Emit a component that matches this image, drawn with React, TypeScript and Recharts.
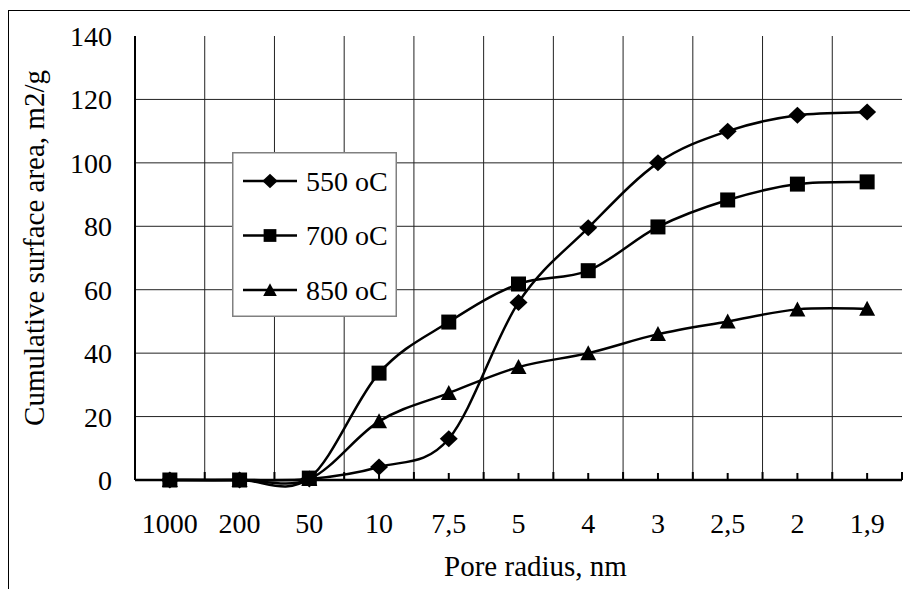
import React from "react";
import {
  LineChart,
  Line,
  XAxis,
  YAxis,
  CartesianGrid,
  Legend,
  Label,
} from "recharts";

const poreRadius = ["1000", "200", "50", "10", "7,5", "5", "4", "3", "2,5", "2", "1,9"];
const area550 = [0, 0, 0.3, 4.1, 13, 56, 79.5, 100, 110, 115, 116];
const area700 = [0, 0, 0.6, 33.7, 49.8, 61.8, 66, 79.8, 88.3, 93.3, 94];
const area850 = [0, 0, 0.3, 18.5, 27.4, 35.6, 40, 46, 50, 53.8, 54];
const yTicks = [0, 20, 40, 60, 80, 100, 120, 140];

const series = [
  { key: "s550", name: "550 oC", values: area550, marker: "diamond" },
  { key: "s700", name: "700 oC", values: area700, marker: "square" },
  { key: "s850", name: "850 oC", values: area850, marker: "triangle" },
];

const data = poreRadius.map((r, i) => ({
  r,
  s550: area550[i],
  s700: area700[i],
  s850: area850[i],
}));

const FONT = "'Liberation Serif', 'DejaVu Serif', 'Times New Roman', serif";

// Excel-style smoothed line (cardinal spline, tension 1/6)
const excelCurve = (context: any) => {
  let pts: number[][] = [];
  return {
    areaStart() {},
    areaEnd() {},
    lineStart() {
      pts = [];
    },
    point(x: number, y: number) {
      pts.push([+x, +y]);
    },
    lineEnd() {
      if (!pts.length) return;
      context.moveTo(pts[0][0], pts[0][1]);
      for (let i = 0; i < pts.length - 1; i++) {
        const p0 = pts[Math.max(i - 1, 0)];
        const p1 = pts[i];
        const p2 = pts[i + 1];
        const p3 = pts[Math.min(i + 2, pts.length - 1)];
        context.bezierCurveTo(
          p1[0] + (p2[0] - p0[0]) / 6,
          p1[1] + (p2[1] - p0[1]) / 6,
          p2[0] - (p3[0] - p1[0]) / 6,
          p2[1] - (p3[1] - p1[1]) / 6,
          p2[0],
          p2[1]
        );
      }
    },
  };
};

const Marker = ({ kind, cx, cy, s = 1 }: any) => {
  if (cx == null || cy == null) return null;
  if (kind === "diamond") {
    const w = 9 * s;
    const h = 8.5 * s;
    return (
      <polygon
        points={`${cx - w},${cy} ${cx},${cy - h} ${cx + w},${cy} ${cx},${cy + h}`}
        fill="#000"
      />
    );
  }
  if (kind === "square") {
    const h = 7.5 * s;
    return <rect x={cx - h} y={cy - h} width={2 * h} height={2 * h} fill="#000" />;
  }
  const w = 8 * s;
  return (
    <polygon
      points={`${cx - w},${cy + 7 * s} ${cx},${cy - 8 * s} ${cx + w},${cy + 7 * s}`}
      fill="#000"
    />
  );
};

const txt = { fontFamily: FONT, fill: "#000" };

const XTick = (props: any) => {
  const { x, y, payload, index, visibleTicksCount, width } = props;
  const half = payload?.offset || width / visibleTicksCount / 2;
  return (
    <g>
      <line x1={x} x2={x} y1={y} y2={y - 7} stroke="#000" strokeWidth={2} />
      <line x1={x - half} x2={x - half} y1={y} y2={y - 8} stroke="#000" strokeWidth={2} />
      {index === visibleTicksCount - 1 && (
        <line x1={x + half} x2={x + half} y1={y} y2={y - 8} stroke="#000" strokeWidth={2} />
      )}
      <text x={x} y={y + 53} textAnchor="middle" fontSize={28} style={txt}>
        {payload.value}
      </text>
    </g>
  );
};

const LegendBox = () => (
  <svg width={165} height={165} style={{ display: "block" }}>
    <rect x={0.75} y={0.75} width={163.5} height={163.5} fill="#fff" stroke="#808080" strokeWidth={1.5} />
    {series.map((s, i) => {
      const cy = 29 + i * 54.5;
      return (
        <g key={s.key}>
          <line x1={11} x2={65} y1={cy} y2={cy} stroke="#000" strokeWidth={2.5} />
          <Marker kind={s.marker} cx={38} cy={cy} s={0.85} />
          <text x={74} y={cy} dominantBaseline="central" fontSize={28} style={txt}>
            {s.name}
          </text>
        </g>
      );
    })}
  </svg>
);

export default function App() {
  const n = poreRadius.length;
  return (
    <div
      style={{
        marginTop: 2,
        width: 909,
        height: 578,
        borderTop: "1px solid #000",
        borderLeft: "1px solid #000",
        background: "#fff",
        fontFamily: FONT,
      }}
    >
      <style>{"body{overflow:hidden}"}</style>
      <LineChart
        width={909}
        height={578}
        data={data}
        margin={{ top: 25, right: 16, bottom: 0, left: 0 }}
      >
        <CartesianGrid
          stroke="#222"
          strokeWidth={1}
          horizontalValues={yTicks.slice(1, -1)}
          verticalCoordinatesGenerator={({ offset }: any) =>
            Array.from({ length: n - 1 }, (_, i) => offset.left + ((i + 1) * offset.width) / n)
          }
        />
        <XAxis
          dataKey="r"
          scale="band"
          height={109}
          interval={0}
          tickSize={0}
          tickMargin={0}
          tickLine={false}
          axisLine={{ stroke: "#000", strokeWidth: 2.5 }}
          tick={<XTick />}
        >
          <Label
            content={({ viewBox }: any) => (
              <text
                x={viewBox.x + viewBox.width / 2 + 17}
                y={viewBox.y + 96}
                textAnchor="middle"
                fontSize={29}
                style={txt}
              >
                Pore radius, nm
              </text>
            )}
          />
        </XAxis>
        <XAxis xAxisId="top" dataKey="r" scale="band" orientation="top" height={0} tick={false} tickLine={false} axisLine={{ stroke: "#8c8c8c", strokeWidth: 2 }} />
        <YAxis
          type="number"
          domain={[0, 140]}
          ticks={yTicks}
          width={126}
          tickSize={0}
          tickMargin={23}
          tickLine={false}
          axisLine={{ stroke: "#000", strokeWidth: 2 }}
          tick={{ fill: "#000", fontSize: 28, fontFamily: FONT, style: { fontFamily: FONT } }}
        >
          <Label
            content={({ viewBox }: any) => {
              const cx = 25;
              const cy = viewBox.y + viewBox.height / 2 - 10;
              return (
                <text
                  x={cx}
                  y={cy}
                  transform={`rotate(-90 ${cx} ${cy})`}
                  textAnchor="middle"
                  dominantBaseline="central"
                  fontSize={29}
                  style={txt}
                >
                  Cumulative surface area, m2/g
                </text>
              );
            }}
          />
        </YAxis>
        <YAxis yAxisId="right" orientation="right" width={0} domain={[0, 140]} tick={false} tickLine={false} axisLine={{ stroke: "#8c8c8c", strokeWidth: 2 }} />
        <Legend
          layout="vertical"
          align="center"
          verticalAlign="middle"
          wrapperStyle={{ left: 223, top: 141, width: 165, height: 165 }}
          content={() => <LegendBox />}
        />
        {series.map((s) => (
          <Line
            key={s.key}
            dataKey={s.key}
            name={s.name}
            type={excelCurve as any}
            stroke="#000"
            strokeWidth={2.5}
            isAnimationActive={false}
            dot={(p: any) => <Marker key={`${s.key}-${p.index}`} kind={s.marker} cx={p.cx} cy={p.cy} />}
            activeDot={false}
          />
        ))}
      </LineChart>
    </div>
  );
}
